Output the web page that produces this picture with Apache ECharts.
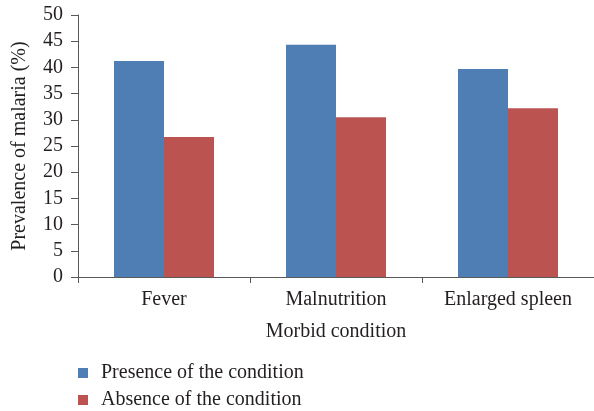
<!DOCTYPE html>
<html>
<head>
<meta charset="utf-8">
<script src="https://cdn.jsdelivr.net/npm/echarts@6/dist/echarts.min.js"></script>
<style>
  html, body { margin: 0; padding: 0; background: #fff; }
  #chart { width: 594px; height: 411px; }
</style>
</head>
<body>
<div id="chart"></div>
<script>
// 数据
const categories = ['Fever', 'Malnutrition', 'Enlarged spleen'];
const presence = [41.2, 44.3, 39.7];
const absence = [26.7, 30.5, 32.2];
const seriesNames = ['Presence of the condition', 'Absence of the condition'];

const font = 'Liberation Serif';
const textColor = '#231f20';
const axisColor = '#595959';
const fs = 20;

const chart = echarts.init(document.getElementById('chart'));
chart.setOption({
  animation: false,
  textStyle: { fontFamily: font },
  grid: { left: 78, right: -2, top: 15, bottom: 134, containLabel: false },
  legend: {
    orient: 'vertical',
    left: 73,
    top: 358,
    height: 80,
    icon: 'rect',
    itemWidth: 10,
    itemHeight: 10,
    itemGap: 7,
    data: seriesNames,
    textStyle: { fontFamily: font, fontSize: fs, color: textColor, padding: [0, 0, 0, 8] }
  },
  xAxis: {
    type: 'category',
    data: categories,
    name: 'Morbid condition',
    nameLocation: 'middle',
    nameGap: 45,
    nameTextStyle: { fontFamily: font, fontSize: fs, color: textColor },
    axisLine: { lineStyle: { color: axisColor, width: 1 } },
    axisTick: { show: true, length: 6, lineStyle: { color: axisColor } },
    axisLabel: { fontFamily: font, fontSize: fs, color: textColor, margin: 13 }
  },
  yAxis: {
    type: 'value',
    min: 0,
    max: 50,
    interval: 5,
    name: 'Prevalence of malaria (%)',
    nameLocation: 'middle',
    nameGap: 48,
    nameTextStyle: { fontFamily: font, fontSize: fs, color: textColor },
    axisLine: { show: true, lineStyle: { color: axisColor, width: 1 } },
    axisTick: { show: true, length: 7, lineStyle: { color: axisColor } },
    axisLabel: { fontFamily: font, fontSize: fs, color: textColor, margin: 15 },
    splitLine: { show: false }
  },
  series: [
    {
      name: seriesNames[0],
      type: 'bar',
      data: presence,
      barWidth: 50,
      barGap: '0%',
      itemStyle: { color: '#4f7eb5' }
    },
    {
      name: seriesNames[1],
      type: 'bar',
      data: absence,
      barWidth: 50,
      barGap: '0%',
      itemStyle: { color: '#bb5451' }
    }
  ]
});
</script>
</body>
</html>
